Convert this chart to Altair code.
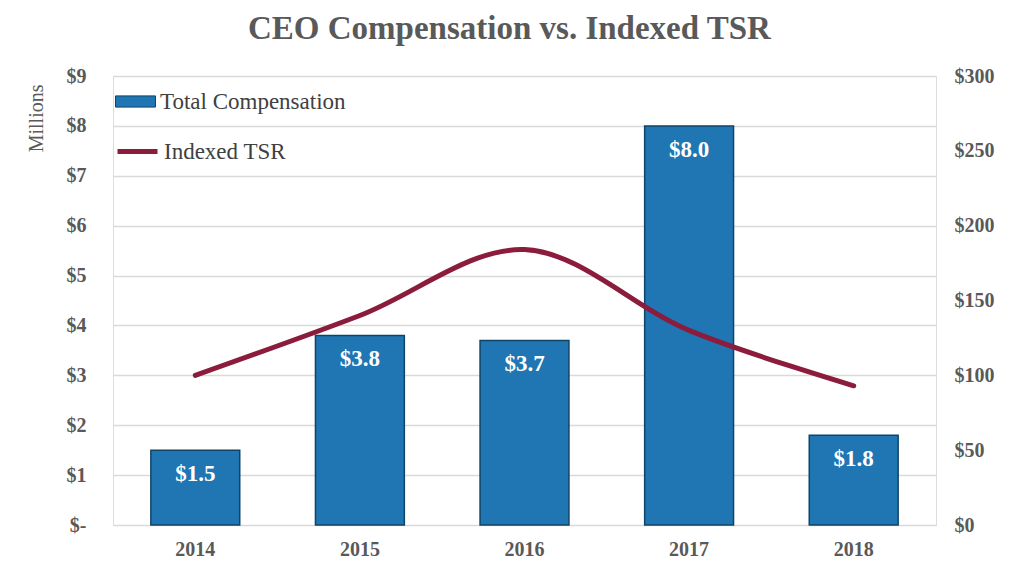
import altair as alt
import pandas as pd

years = ["2014", "2015", "2016", "2017", "2018"]
compensation = [1.5, 3.8, 3.7, 8.0, 1.8]
tsr = [100, 140, 184, 130, 93]
comp_labels = ["$1.5", "$3.8", "$3.7", "$8.0", "$1.8"]

df = pd.DataFrame({
    "year": years,
    "comp": compensation,
    "tsr": tsr,
    "label": comp_labels,
    "s1": ["Total Compensation"] * 5,
    "s2": ["Indexed TSR"] * 5,
})

SERIF = "Liberation Serif"
GRAY = "#595959"

x = alt.X("year:N", title=None,
          scale=alt.Scale(paddingInner=0.46, paddingOuter=0.23),
          axis=alt.Axis(labelFont=SERIF, labelFontWeight="bold", labelFontSize=20,
                        labelColor=GRAY, labelAngle=0, ticks=False, domain=False,
                        labelPadding=14))

bars = alt.Chart(df).mark_bar(stroke="#0f4468", strokeWidth=1.5).encode(
    x=x,
    y=alt.Y("comp:Q", title="Millions",
            scale=alt.Scale(domain=[0, 9]),
            axis=alt.Axis(values=list(range(10)), labelExpr="datum.value == 0 ? '$-' : '$' + datum.value",
                          labelFont=SERIF, labelFontWeight="bold", labelFontSize=20,
                          labelColor=GRAY, ticks=False, domain=False, labelPadding=27,
                          gridColor="#d9d9d9", gridWidth=1.5,
                          titleFont=SERIF, titleFontWeight="normal", titleFontSize=20,
                          titleColor=GRAY, titlePadding=20, titleAnchor="end", titleY=8)),
    fill=alt.Fill("s1:N", scale=alt.Scale(range=["#1f76b2"]),
                  legend=alt.Legend(title=None, orient="none", legendX=2, legendY=5,
                                    symbolType="M-1,-0.28H1V0.28H-1Z", symbolSize=1600,
                                    symbolStrokeColor="#0f4468", symbolStrokeWidth=1,
                                    labelFont=SERIF, labelFontSize=23, labelColor="#404040",
                                    labelOffset=4, labelLimit=400)),
)

text = alt.Chart(df).mark_text(font=SERIF, fontWeight="bold", fontSize=23, color="white",
                               baseline="middle", dy=24).encode(
    x=x,
    y=alt.Y("comp:Q"),
    text="label:N",
)

line = alt.Chart(df).mark_line(strokeWidth=5, interpolate="catmull-rom", strokeCap="round").encode(
    x=x,
    y=alt.Y("tsr:Q", title=None,
            scale=alt.Scale(domain=[0, 300]),
            axis=alt.Axis(values=list(range(0, 301, 50)), labelExpr="'$' + datum.value",
                          labelFont=SERIF, labelFontWeight="bold", labelFontSize=20,
                          labelColor=GRAY, ticks=False, domain=False, grid=False,
                          labelPadding=18, orient="right")),
    stroke=alt.Stroke("s2:N", scale=alt.Scale(range=["#8b1c3c"]),
                      legend=alt.Legend(title=None, orient="none", legendX=2, legendY=53,
                                        symbolType="stroke", symbolSize=1600,
                                        symbolStrokeWidth=5,
                                        labelFont=SERIF, labelFontSize=23, labelColor="#404040",
                                        labelOffset=4, labelLimit=400)),
)

left = alt.layer(bars, text)
chart = alt.layer(left, line).resolve_scale(y="independent", fill="independent", stroke="independent").properties(
    width=823, height=449,
    padding={"left": 18, "right": 5, "top": 5, "bottom": 5},
    title=alt.TitleParams("CEO Compensation vs. Indexed TSR", font=SERIF, fontSize=33,
                          fontWeight="bold", color=GRAY, offset=20, dx=-15),
).configure_view(stroke=None).configure(background="white")

chart.save("out.html", embed_options={"renderer": "svg", "actions": False})
